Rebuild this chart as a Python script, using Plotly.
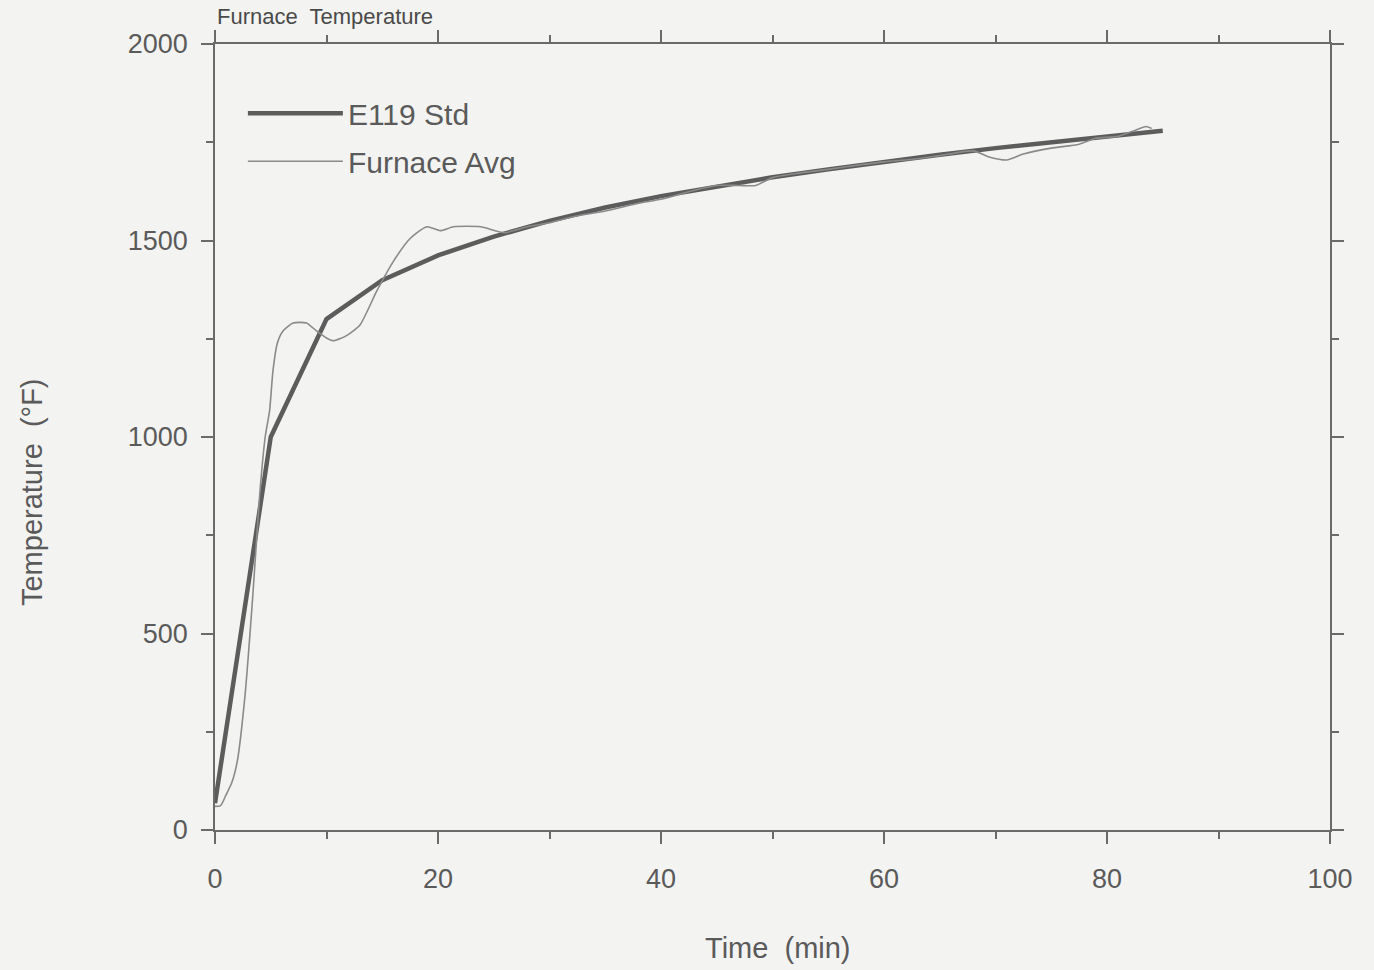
import plotly.graph_objects as go

# E119 standard time-temperature curve
e119_time = [0, 5, 10, 15, 20, 25, 30, 35, 40, 45, 50, 55, 60, 65, 70, 75, 80, 85]
e119_temp = [68, 1000, 1300, 1399, 1462, 1510, 1550, 1584, 1613, 1638, 1661, 1681,
             1700, 1718, 1735, 1750, 1765, 1779]

# Measured furnace average
furn_time = [0, 0.5, 1, 1.5, 2, 2.7, 3.4, 4.0, 4.5, 4.9, 5.2, 5.6, 6.1, 7.0, 8.2, 9.1,
             10.0, 10.6, 11.8, 13.0, 14.5, 16.0, 17.5, 19.0, 20.2, 21.4, 23.8, 26, 28,
             30, 32, 35, 38, 40, 43, 45, 47, 48.5, 50, 52, 55, 58, 60, 63, 65, 68,
             69.5, 71, 72.5, 75, 77.5, 79, 81, 82.5, 83.5, 84]
furn_temp = [60, 62, 90, 120, 175, 345, 600, 850, 1000, 1068, 1169, 1240, 1270, 1290,
             1290, 1270, 1252, 1245, 1258, 1285, 1371, 1447, 1505, 1535, 1525, 1535,
             1535, 1520, 1535, 1545, 1560, 1575, 1595, 1605, 1628, 1640, 1640, 1640,
             1660, 1670, 1681, 1693, 1700, 1708, 1716, 1728, 1712, 1705, 1720, 1735,
             1745, 1760, 1765, 1780, 1790, 1785]

x_ticks = [0, 20, 40, 60, 80, 100]
y_ticks = [0, 500, 1000, 1500, 2000]

FONT = "Liberation Sans"
INK = "#5a5a5a"
BG = "#f3f3f1"

fig = go.Figure()
fig.add_trace(go.Scatter(x=e119_time, y=e119_temp, mode="lines", name="E119 Std",
                         legendgroup="a",
                         line=dict(color="#5c5c5c", width=4.5)))
fig.add_trace(go.Scatter(x=furn_time, y=furn_temp, mode="lines", name="Furnace Avg",
                         legendgroup="b",
                         line=dict(color="#8a8a8a", width=1.6, shape="spline", smoothing=0.6)))

axis_common = dict(showline=True, linecolor="#6a6a6a", linewidth=1.5, mirror="allticks",
                   ticks="outside", ticklen=12, tickwidth=1.5, tickcolor="#6a6a6a",
                   showgrid=False, zeroline=False,
                   tickfont=dict(family=FONT, size=27, color=INK))

fig.update_xaxes(range=[0, 100], tickvals=x_ticks, ticklabelstandoff=12,
                 minor=dict(dtick=10, ticks="outside", ticklen=7, tickcolor="#6a6a6a", showgrid=False),
                 **axis_common)
fig.update_yaxes(range=[0, 2000], tickvals=y_ticks, ticklabelstandoff=8,
                 minor=dict(dtick=250, ticks="outside", ticklen=7, tickcolor="#6a6a6a", showgrid=False),
                 **axis_common)

# axis titles
fig.add_annotation(text="Time  (min)", xref="paper", yref="paper", x=0.505, y=-0.15,
                   xanchor="center", yanchor="middle", showarrow=False,
                   font=dict(family=FONT, size=29, color=INK))
fig.add_annotation(text="Temperature  (°F)", xref="paper", yref="paper", x=0, y=0.43,
                   xshift=-183, xanchor="center", yanchor="middle", textangle=-90,
                   showarrow=False, font=dict(family=FONT, size=29, color=INK))

# chart title (mostly off the top of the scanned page)
fig.add_annotation(text="Furnace  Temperature", xref="paper", yref="paper", x=0.0, y=1.0,
                   xanchor="left", yanchor="bottom", yshift=13, showarrow=False,
                   font=dict(family=FONT, size=22, color="#4a4a4a"))

fig.update_layout(
    width=1374, height=970,
    margin=dict(l=215, r=44, t=44, b=140),
    paper_bgcolor=BG, plot_bgcolor=BG,
    showlegend=True,
    legend=dict(x=0.025, y=0.945, xanchor="left", yanchor="top", bgcolor="rgba(0,0,0,0)",
                itemwidth=95, tracegroupgap=6,
                font=dict(family=FONT, size=30, color=INK)),
)

fig.write_html("out.html")
